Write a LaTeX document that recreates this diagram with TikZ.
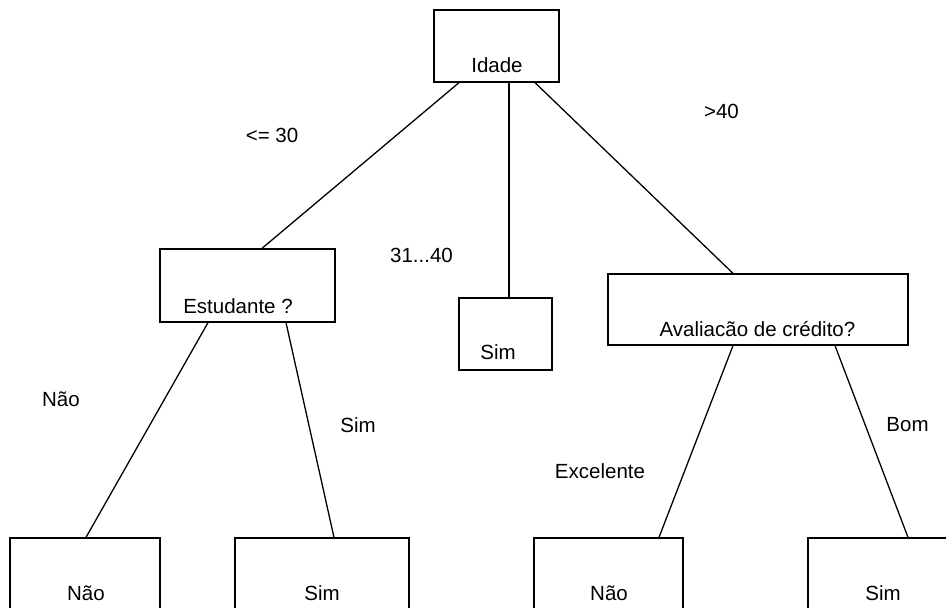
\documentclass[tikz,border=0pt]{standalone}
\usepackage{fontspec}
\setmainfont{Liberation Sans}
\usetikzlibrary{calc}
\tikzset{
  treebox/.style={draw, line width=1.3pt, rectangle, inner sep=0pt},
  boxtext/.style={anchor=base, inner sep=0pt, font=\fontsize{20.5}{24}\selectfont},
  edgetext/.style={anchor=base, inner sep=0pt, font=\fontsize{20.5}{24}\selectfont},
  branch/.style={line width=1.3pt}
}
\begin{document}
\begin{tikzpicture}[x=1pt, y=-1pt]
\useasboundingbox (0,0) rectangle (946,608);
\clip (0,0) rectangle (946,608);
\fill[white] (0,0) rectangle (946,608);

% decision and leaf boxes
\node[treebox, minimum width=125pt, minimum height=72pt] (idade) at (496.5,46) {};
\node[treebox, minimum width=175pt, minimum height=73pt] (estud) at (247.5,285.5) {};
\node[treebox, minimum width=93pt, minimum height=72pt] (simmid) at (505.5,334) {};
\node[treebox, minimum width=300pt, minimum height=71pt] (aval) at (758,309.5) {};
\node[treebox, minimum width=150pt, minimum height=72pt] (naoa) at (85,574) {};
\node[treebox, minimum width=174pt, minimum height=72pt] (sima) at (322,574) {};
\node[treebox, minimum width=149pt, minimum height=72pt] (naob) at (608.5,574) {};
\node[treebox, minimum width=150pt, minimum height=72pt] (simb) at (883,574) {};

% texts inside the boxes
\node[boxtext] (tidade) at (497,72) {Idade};
\node[boxtext] (testud) at (238,313) {Estudante ?};
\node[boxtext] (tsimmid) at (498,359) {Sim};
\node[boxtext] (taval) at (757.5,336) {Avaliacão de crédito?};
\node[boxtext] (tnaoa) at (86,600) {Não};
\node[boxtext] (tsima) at (322,600) {Sim};
\node[boxtext] (tnaob) at (609,600) {Não};
\node[boxtext] (tsimb) at (883,600) {Sim};

% branches
\draw[branch] ([xshift=-37.5pt]idade.south) -- ([xshift=14.5pt]estud.north);
\draw[branch] ([xshift=12.5pt]idade.south) -- ([xshift=3.5pt]simmid.north);
\draw[branch] ([xshift=38.5pt]idade.south) -- ([xshift=-25pt]aval.north);
\draw[branch] ([xshift=-39.5pt]estud.south) -- ([xshift=1pt]naoa.north);
\draw[branch] ([xshift=38.5pt]estud.south) -- ([xshift=12pt]sima.north);
\draw[branch] ([xshift=-25pt]aval.south) -- ([xshift=50.5pt]naob.north);
\draw[branch] ([xshift=77pt]aval.south) -- ([xshift=25pt]simb.north);

% branch labels
\node[edgetext] (lle30) at (272,142) {<= 30};
\node[edgetext] (l3140) at (421.5,262) {31...40};
\node[edgetext] (lgt40) at (721.5,118) {>40};
\node[edgetext] (lnao) at (61,406) {Não};
\node[edgetext] (lsim) at (358,432) {Sim};
\node[edgetext] (lexc) at (600,478) {Excelente};
\node[edgetext] (lbom) at (907.5,431) {Bom};
\end{tikzpicture}
\end{document}
